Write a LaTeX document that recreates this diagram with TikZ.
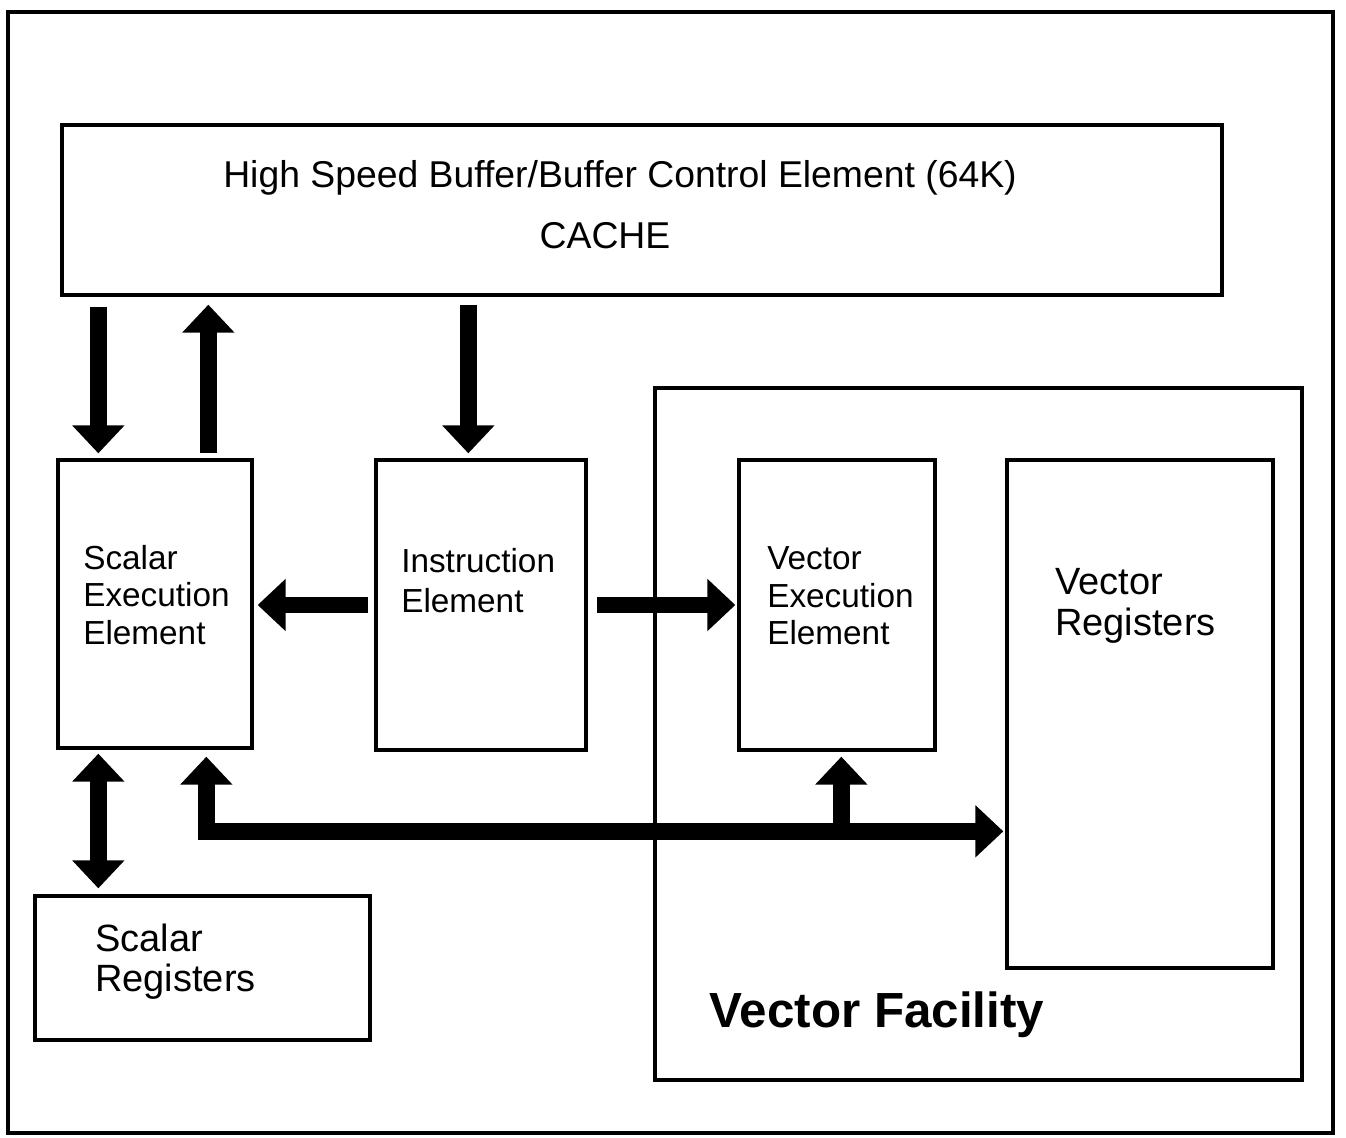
\documentclass[tikz,border=0pt]{standalone}
\usepackage{fontspec}
\setmainfont{Liberation Sans}
\usetikzlibrary{arrows.meta,calc,fit}
\tikzset{
  box/.style={draw, line width=2.5pt, inner sep=0pt, fit={#1}},
  lbl/.style={inner sep=0pt, align=left, anchor=west},
  fat/.style={line width=12.5pt, line join=miter, -{Triangle[width=38pt,length=21pt]}},
  fatboth/.style={line width=12.5pt, line join=miter, {Triangle[width=38pt,length=21pt]}-{Triangle[width=38pt,length=21pt]}},
}
\begin{document}
\begin{tikzpicture}[x=0.75pt,y=-0.75pt]
\useasboundingbox (0,0) rectangle (1346,1138);

% outer frame
\draw[line width=2.8pt] (8,12) rectangle (1333,1133);

% blocks
\node[box={(62,125) (1222,295)}] (cache) {};
\node[box={(58,460) (252,748)}] (see) {};
\node[box={(376,460) (586,750)}] (ie) {};
\node[box={(655,388) (1302,1080)}] (vf) {};
\node[box={(739,460) (935,750)}] (vee) {};
\node[box={(1007,460) (1273,968)}] (vr) {};
\node[box={(35,896) (370,1040)}] (sr) {};

% labels
\node[inner sep=0pt, font=\fontsize{28}{30}\selectfont] (cachet1) at (620,178) {High Speed Buffer/Buffer Control Element (64K)};
\node[inner sep=0pt, font=\fontsize{28}{30}\selectfont] (cachet2) at (605,236) {CACHE};
\node[lbl, font=\fontsize{25}{28}\selectfont] (seet) at (83,595) {Scalar\\Execution\\Element};
\node[lbl, font=\fontsize{25}{30}\selectfont] (iet) at (401,581) {Instruction\\Element};
\node[lbl, font=\fontsize{25}{28}\selectfont] (veet) at (767,596) {Vector\\Execution\\Element};
\node[lbl, font=\fontsize{28.5}{31}\selectfont] (vrt) at (1055,606) {Vector\\Registers};
\node[lbl, font=\fontsize{28.5}{30}\selectfont] (srt) at (95,962) {Scalar\\Registers};
\node[inner sep=0pt, font=\fontsize{37}{40}\selectfont\bfseries] (vft) at (877,1015) {Vector Facility};

% data paths
\draw[fat] ($(cache.south west)+(38,10)$) -- ($(see.north west)+(42,-5)$);
\draw[fat] ($(see.north west)+(152,-5)$) -- ($(cache.south west)+(148,8)$);
\draw[fat] ($(cache.south west)+(408,8)$) -- ($(ie.north west)+(94,-5)$);
\draw[fat] ($(ie.west)+(-6,0)$) -- ($(ie.west -| see.east)+(4,0)$);
\draw[fat] ($(ie.east)+(9,0)$) -- ($(ie.east -| vee.west)+(-2,0)$);
\draw[fatboth] ($(see.south west)+(42,4)$) -- ($(sr.north west)+(65,-6)$);
\coordinate (bus) at ($(vee.south west)+(104,83)$);
\draw[fatboth] ($(see.south west)+(150,7)$) |- ($(vr.north west)+(-2,373)$);
\draw[fat] (bus) -- ($(vee.south west)+(104,5)$);
\end{tikzpicture}
\end{document}
